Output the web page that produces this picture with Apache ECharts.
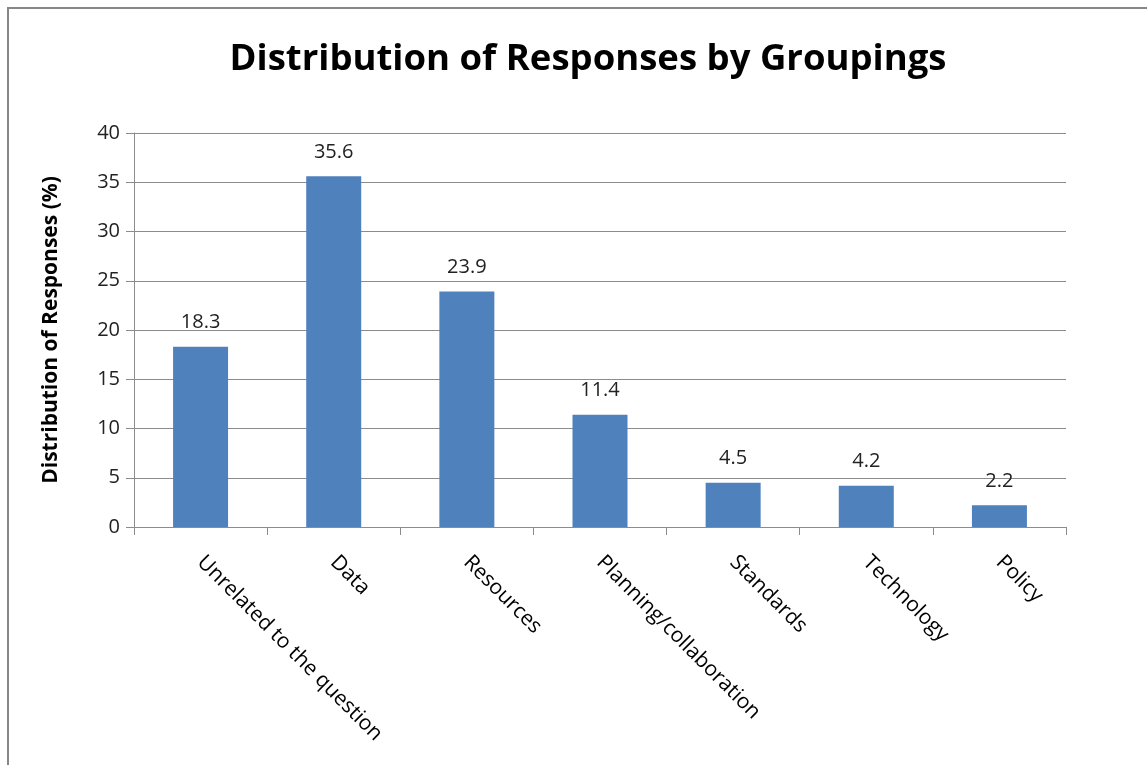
<!DOCTYPE html>
<html>
<head>
<meta charset="utf-8">
<script src="https://cdn.jsdelivr.net/npm/echarts@6/dist/echarts.min.js"></script>
<style>
  html, body { margin: 0; padding: 0; background: #fff; }
  #main { width: 1147px; height: 765px; }
</style>
</head>
<body>
<div id="main"></div>
<script>
// data
var categories = ['Unrelated to the question', 'Data', 'Resources', 'Planning/collaboration', 'Standards', 'Technology', 'Policy'];
var values = [18.3, 35.6, 23.9, 11.4, 4.5, 4.2, 2.2];
var yTicks = [0, 5, 10, 15, 20, 25, 30, 35, 40];

var myChart = echarts.init(document.getElementById('main'));

var font = '"Open Sans", sans-serif';

var option = {
  animation: false,
  title: {
    text: 'Distribution of Responses by Groupings',
    left: 583,
    top: 36,
    textAlign: 'center',
    textStyle: { fontFamily: font, fontSize: 36.5, fontWeight: 'bold', color: '#000' }
  },
  graphic: [{
    type: 'rect',
    shape: { x: 8, y: 8, width: 1160, height: 780 },
    style: { fill: null, stroke: '#878787', lineWidth: 2 },
    silent: true
  }],
  grid: { left: 134, right: 81, top: 133, bottom: 238 },
  xAxis: {
    type: 'category',
    data: categories,
    axisLine: { lineStyle: { color: '#8c8c8c', width: 1 } },
    axisTick: { show: true, length: 8, alignWithLabel: false, lineStyle: { color: '#8c8c8c' } },
    axisLabel: {
      rotate: -45,
      interval: 0,
      margin: 32,
      fontFamily: font,
      fontSize: 21,
      color: '#000'
    }
  },
  yAxis: {
    type: 'value',
    min: yTicks[0],
    max: yTicks[yTicks.length - 1],
    interval: 5,
    name: 'Distribution of Responses (%)',
    nameLocation: 'middle',
    nameGap: 72,
    nameTextStyle: { fontFamily: font, fontSize: 21, fontWeight: 'bold', color: '#000' },
    axisLine: { show: true, lineStyle: { color: '#8c8c8c', width: 1 } },
    axisTick: { show: true, length: 8, lineStyle: { color: '#8c8c8c' } },
    axisLabel: { fontFamily: font, fontSize: 20, color: '#222', margin: 14 },
    splitLine: { lineStyle: { color: '#8c8c8c', width: 1 } }
  },
  series: [{
    type: 'bar',
    data: values,
    barWidth: 55,
    itemStyle: { color: '#4F81BD' },
    label: {
      show: true,
      position: 'top',
      distance: 14,
      fontFamily: font,
      fontSize: 20,
      color: '#222'
    }
  }]
};

myChart.setOption(option);
</script>
</body>
</html>
